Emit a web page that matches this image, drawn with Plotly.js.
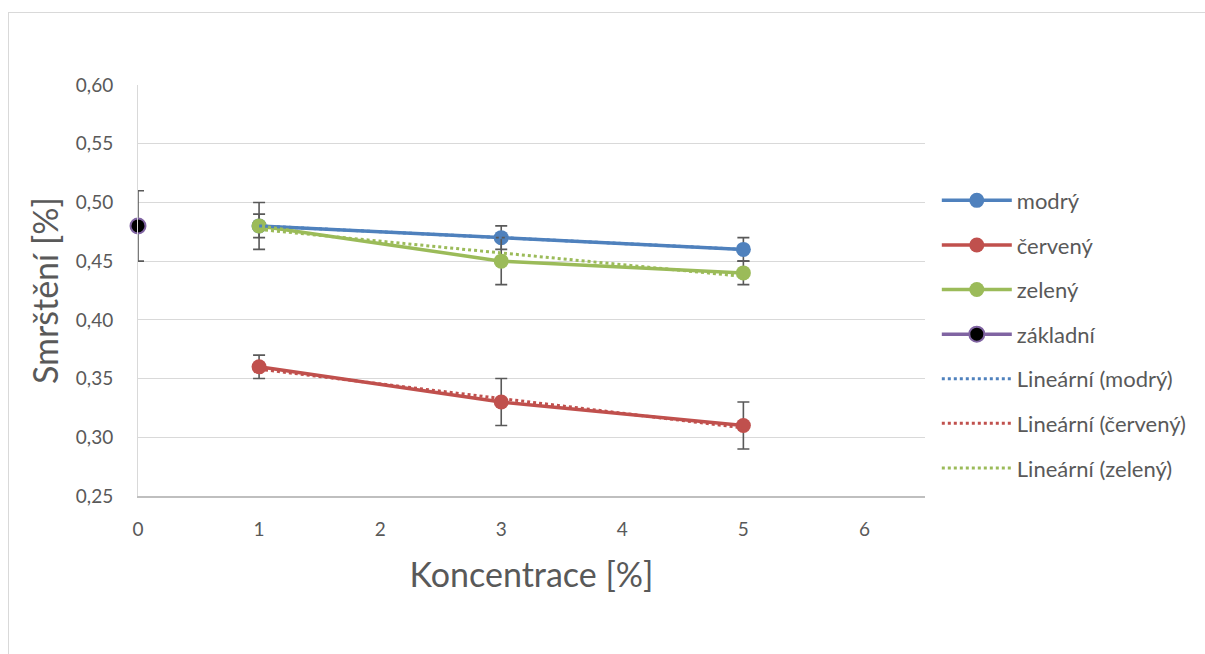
<!DOCTYPE html>
<html><head><meta charset="utf-8">
<script src="https://cdn.plot.ly/plotly-3.0.1.min.js"></script>
<style>
html,body{margin:0;padding:0;background:#fff;overflow:hidden}
#chart{width:1205px;height:654px;position:relative}
#frame{position:absolute;left:8px;top:12px;width:1300px;height:800px;border:1px solid #d9d9d9;pointer-events:none}
</style></head>
<body>
<div id="chart"></div>
<div id="frame"></div>
<script>
// Data
const xSeries = [1, 3, 5];
const modry = [0.48, 0.47, 0.46];
const modryErr = [0.01, 0.01, 0.01];
const cerveny = [0.36, 0.33, 0.31];
const cervenyErr = [0.01, 0.02, 0.02];
const zeleny = [0.48, 0.45, 0.44];
const zelenyErr = [0.02, 0.02, 0.01];
const xZakladni = [0];
const zakladni = [0.48];
const zakladniErr = [0.03];
// Trendline end values (linear fits)
const xTrend = [1, 5];
const trendModry = [0.480, 0.460];
const trendCerveny = [0.358, 0.308];
const trendZeleny = [0.477, 0.437];

const xTicks = [0, 1, 2, 3, 4, 5, 6];
const yTicks = [0.25, 0.30, 0.35, 0.40, 0.45, 0.50, 0.55, 0.60];
const yTickText = ['0,25','0,30','0,35','0,40','0,45','0,50','0,55','0,60'];

const BLUE = '#4f81bd', RED = '#c0504d', GREEN = '#9bbb59', PURPLE = '#8064a2';
const errStyle = (arr) => ({type:'data', array: arr, visible:true, color:'#595959', thickness:1.6, width:6});

function series(name, x, y, err, color, markerColor, lineColor, grp) {
  return {
    type:'scatter', mode:'lines+markers', name, x, y,
    error_y: errStyle(err),
    line:{color: lineColor || color, width:3.5},
    marker:{size:15, color: markerColor || color, line:{color: color, width: markerColor ? 2 : 0}},
    legendgroup: grp, cliponaxis:false
  };
}
function trend(name, y, color, grp) {
  return {type:'scatter', mode:'lines', name, x: xTrend, y,
    line:{color, width:3, dash:'dot'}, legendgroup: grp};
}

const data = [
  series('modrý', xSeries, modry, modryErr, BLUE, null, null, 'g1'),
  series('červený', xSeries, cerveny, cervenyErr, RED, null, null, 'g2'),
  series('zelený', xSeries, zeleny, zelenyErr, GREEN, null, null, 'g3'),
  series('základní', xZakladni, zakladni, zakladniErr, PURPLE, '#000000', PURPLE, 'g4'),
  trend('Lineární (modrý)', trendModry, BLUE, 'g5'),
  trend('Lineární (červený)', trendCerveny, RED, 'g6'),
  trend('Lineární (zelený)', trendZeleny, GREEN, 'g7'),
];

const FONT = 'Lato, "Open Sans", sans-serif';
const layout = {
  width:1205, height:654,
  margin:{l:138, r:280, t:85, b:158},
  paper_bgcolor:'#fff', plot_bgcolor:'#fff',
  font:{family:FONT, color:'#595959', size:19},
  showlegend:true,
  legend:{x:1.015, y:0.77, xanchor:'left', yanchor:'top', traceorder:'grouped',
    tracegroupgap:13, font:{size:22, color:'#595959', family:FONT}, itemwidth:70,
    bgcolor:'rgba(0,0,0,0)'},
  xaxis:{range:[0,6.5], tickvals:xTicks, ticktext:xTicks.map(String), showgrid:false,
    zeroline:false, showline:true, linecolor:'#bfbfbf', linewidth:1.5, ticks:'',
    tickfont:{size:19, color:'#595959'}, ticklabelstandoff:16,
    title:{text:'Koncentrace [%]', font:{size:34, color:'#595959'}, standoff:24}},
  yaxis:{range:[0.25,0.60], tickvals:yTicks, ticktext:yTickText, showgrid:true,
    gridcolor:'#d9d9d9', gridwidth:1, zeroline:false, showline:true, linecolor:'#d9d9d9',
    ticks:'', tickfont:{size:19, color:'#595959'}, ticklabelstandoff:20,
    title:{text:'Smrštění [%]', font:{size:34, color:'#595959'}, standoff:6}},
};
Plotly.newPlot('chart', data, layout, {staticPlot:true});
</script>
</body></html>
